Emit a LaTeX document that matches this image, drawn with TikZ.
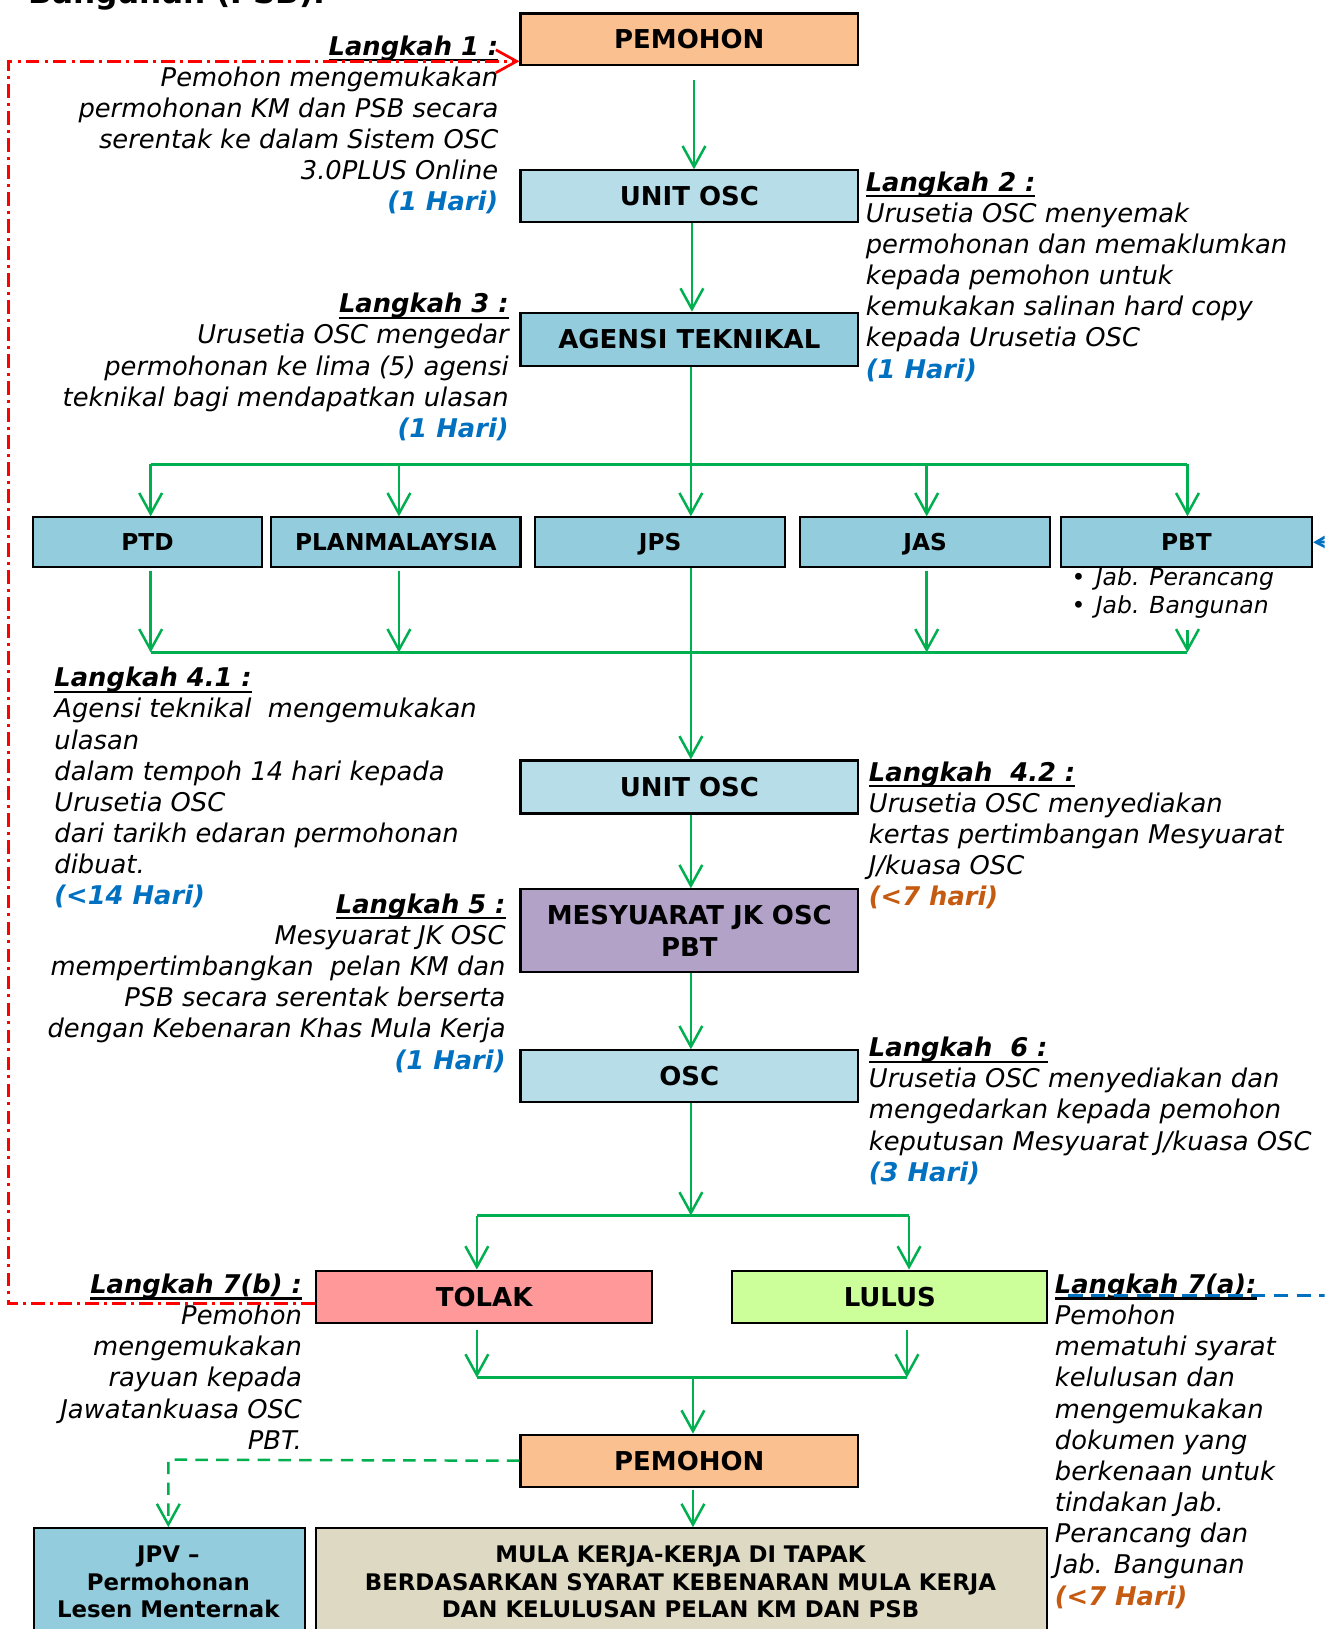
\documentclass[tikz,border=0pt]{standalone}
\usepackage{fontspec}
\setmainfont{DejaVu Sans}
\usetikzlibrary{arrows.meta}
\definecolor{peach}{RGB}{250,192,144}
\definecolor{lightblue}{RGB}{183,222,232}
\definecolor{midblue}{RGB}{147,205,221}
\definecolor{lilac}{RGB}{179,162,199}
\definecolor{pinkred}{RGB}{255,153,153}
\definecolor{lime}{RGB}{204,255,153}
\definecolor{tan}{RGB}{221,217,195}
\definecolor{ggreen}{RGB}{0,176,80}
\definecolor{hblue}{RGB}{0,112,192}
\definecolor{horange}{RGB}{197,90,17}
\definecolor{rred}{RGB}{255,0,0}
\newsavebox\lkbox
\newcommand\lk[1]{\sbox\lkbox{\bfseries\itshape #1}\usebox\lkbox\llap{\rule[-3pt]{\wd\lkbox}{1.1pt}}}
\newcommand\hb[1]{{\color{hblue}\bfseries\itshape #1}}
\newcommand\ho[1]{{\color{horange}\bfseries\itshape #1}}
\begin{document}
\begin{tikzpicture}[x=0.5pt,y=-0.5pt,
  box/.style={draw=black,line width=1pt,inner sep=0pt,anchor=north west,
    font=\fontsize{12.5}{15}\selectfont\bfseries},
  abox/.style={box,fill=midblue,minimum height=24pt,text height=8.2pt,text depth=0pt,
    font=\fontsize{11.2}{13}\selectfont\bfseries},
  bbox/.style={box,minimum height=62pt},
  btxt/.style={inner sep=0pt,align=center,anchor=base,
    font=\fontsize{11}{13.25}\selectfont\bfseries},
  txt/.style={inner sep=0pt,font=\fontsize{12.4}{15}\selectfont\itshape},
  gline/.style={draw=ggreen,line width=1.2pt},
  gar/.style={gline,-{Straight Barb[length=10pt,width=11pt]}},
  rline/.style={draw=rred,line width=1.3pt,dash pattern=on 6.5pt off 2.5pt on 1.5pt off 2.5pt,
    -{Straight Barb[length=10pt,width=11pt]}},
]
\useasboundingbox (0,0) rectangle (1275,1568);
\clip (0,0) rectangle (1275,1568);
\fill[white] (0,0) rectangle (1275,1568);

% title fragment
\node[inner sep=0pt,anchor=base west,font=\fontsize{15}{18}\selectfont\bfseries] (title) at (27,3) {Bangunan (PSB).};

% main boxes
\node[box,fill=peach,minimum width=162.5pt,minimum height=25pt] (p1) at (500,12) {PEMOHON};
\node[box,fill=lightblue,minimum width=162.5pt,minimum height=25pt] (u1) at (500,163) {UNIT OSC};
\node[box,fill=midblue,minimum width=162.5pt,minimum height=25.5pt] (a1) at (500,300) {AGENSI TEKNIKAL};

\node[abox,minimum width=110pt] (ptd) at (31,497) {PTD};
\node[abox,minimum width=120pt] (plan) at (260,497) {PLANMALAYSIA};
\node[abox,minimum width=120.5pt] (jps) at (514,497) {JPS};
\node[abox,minimum width=120.5pt] (jas) at (769,497) {JAS};
\node[abox,minimum width=121pt] (pbt) at (1020,497) {PBT};

\node[box,fill=lightblue,minimum width=162.5pt,minimum height=25.5pt] (u2) at (500,731) {UNIT OSC};
\node[box,fill=lilac,minimum width=162.5pt,minimum height=40pt,align=center] (m) at (500,855) {MESYUARAT JK OSC\\PBT};
\node[box,fill=lightblue,minimum width=162.5pt,minimum height=25pt] (osc) at (500,1010) {OSC};
\node[box,fill=pinkred,minimum width=162pt,minimum height=25pt] (tolak) at (303,1222) {TOLAK};
\node[box,fill=lime,minimum width=151.5pt,minimum height=25pt] (lulus) at (704,1222) {LULUS};
\node[box,fill=peach,minimum width=162.5pt,minimum height=25pt] (p2) at (500,1380) {PEMOHON};
\node[bbox,fill=midblue,minimum width=130.5pt] (jpv) at (32,1470) {};
\node[bbox,fill=tan,minimum width=352pt] (mula) at (303,1470) {};
\node[btxt] (jpvt) at (162,1557) {JPV --\\Permohonan\\Lesen Menternak};
\node[btxt] (mulat) at (655,1557) {MULA KERJA-KERJA DI TAPAK\\BERDASARKAN SYARAT KEBENARAN MULA KERJA\\DAN KELULUSAN PELAN KM DAN PSB};

% PBT bullets
\node[inner sep=0pt,anchor=base west,align=left,font=\fontsize{11.3}{13.5}\selectfont] (pbtl) at (1031,591)
  {•\hspace{5pt}\itshape Jab. Perancang\\•\hspace{5pt}\itshape Jab. Bangunan};

% texts (base anchor = baseline of last line)
\node[txt,align=right,anchor=base east] (s1) at (480,203) {\lk{Langkah 1 :}\\Pemohon mengemukakan\\permohonan KM dan PSB secara\\serentak ke dalam Sistem OSC\\3.0PLUS Online\\\hb{(1 Hari)}};
\node[txt,align=left,anchor=base west] (s2) at (833,364) {\lk{Langkah 2 :}\\Urusetia OSC menyemak\\permohonan dan memaklumkan\\kepada pemohon untuk\\kemukakan salinan hard copy\\kepada Urusetia OSC\\\hb{(1 Hari)}};
\node[txt,align=right,anchor=base east] (s3) at (490,421) {\lk{Langkah 3 :}\\Urusetia OSC mengedar\\permohonan ke lima (5) agensi\\teknikal bagi mendapatkan ulasan\\\hb{(1 Hari)}};
\node[txt,align=left,anchor=base west] (s41) at (52,871) {\lk{Langkah 4.1 :}\\Agensi teknikal\ \ mengemukakan\\ulasan\\dalam tempoh 14 hari kepada\\Urusetia OSC\\dari tarikh edaran permohonan\\dibuat.\\\hb{(<14 Hari)}};
\node[txt,align=left,anchor=base west] (s42) at (836,872) {\lk{Langkah\ \ 4.2 :}\\Urusetia OSC menyediakan\\kertas pertimbangan Mesyuarat\\J/kuasa OSC\\\ho{(<7 hari)}};
\node[txt,align=right,anchor=base east] (s5) at (487,1029) {\lk{Langkah 5 :}\\Mesyuarat JK OSC\\mempertimbangkan\ \ pelan KM dan\\PSB secara serentak berserta\\dengan Kebenaran Khas Mula Kerja\\\hb{(1 Hari)}};
\node[txt,align=left,anchor=base west] (s6) at (836,1137) {\lk{Langkah\ \ 6 :}\\Urusetia OSC menyediakan dan\\mengedarkan kepada pemohon\\keputusan Mesyuarat J/kuasa OSC\\\hb{(3 Hari)}};
\node[txt,align=right,anchor=base east] (s7b) at (291,1395) {\lk{Langkah 7(b) :}\\Pemohon\\mengemukakan\\rayuan kepada\\Jawatankuasa OSC\\PBT.};
\node[txt,align=left,anchor=base west] (s7a) at (1015,1545) {\lk{Langkah 7(a):}\\Pemohon\\mematuhi syarat\\kelulusan dan\\mengemukakan\\dokumen yang\\berkenaan untuk\\tindakan Jab.\\Perancang dan\\Jab. Bangunan\\\ho{(<7 Hari)}};

% junction coordinates
\coordinate (cx) at (665,447);
\coordinate (h1) at (145,447);
\coordinate (h2) at (384,447);
\coordinate (h4) at (892,447);
\coordinate (h5) at (1143,447);
\coordinate (b1) at (145,628);
\coordinate (b2) at (384,628);
\coordinate (b4) at (892,628);
\coordinate (b5) at (1143,628);
\coordinate (b5s) at (1143,606);
\coordinate (j7) at (665,1170);
\coordinate (jl) at (459,1170);
\coordinate (jr) at (875,1170);
\coordinate (kl) at (459,1326);
\coordinate (kr) at (873,1326);
\coordinate (kc) at (667,1326);
\coordinate (dj) at (162,1405);
\coordinate (r1) at (8,1255);
\coordinate (r2) at (8,59);
\coordinate (bz) at (1300,521);
\coordinate (bd1) at (1028,1247);
\coordinate (bd2) at (1300,1247);

% green connectors
\draw[gar] ([xshift=2.25pt,yshift=-6.5pt]p1.south) -- ([xshift=2.25pt]u1.north);
\draw[gar] ([xshift=1.25pt]u1.south) -- ([xshift=1.25pt]a1.north);
\draw[gline] (cx |- a1.south) -- (cx);
\draw[gline] (h1) -- (h5);
\draw[gar] (h1) -- (h1 |- ptd.north);
\draw[gar] (h2) -- (h2 |- plan.north);
\draw[gar] (cx) -- (cx |- jps.north);
\draw[gar] (h4) -- (h4 |- jas.north);
\draw[gar] (h5) -- (h5 |- pbt.north);
\draw[gar] ([yshift=-1.5pt]h1 |- ptd.south) -- (b1);
\draw[gar] ([yshift=-1.5pt]h2 |- plan.south) -- (b2);
\draw[gar] ([yshift=-1.5pt]h4 |- jas.south) -- (b4);
\draw[gar] (b5s) -- (b5);
\draw[gline] (b1) -- (b5);
\draw[gar] (cx |- jps.south) -- (cx |- u2.north);
\draw[gar] (cx |- u2.south) -- (cx |- m.north);
\draw[gar] (cx |- m.south) -- (cx |- osc.north);
\draw[gar] (cx |- osc.south) -- (j7);
\draw[gline] (jl) -- (jr);
\draw[gar] (jl) -- (jl |- tolak.north);
\draw[gar] (jr) -- (jr |- lulus.north);
\draw[gar] ([yshift=-3pt]kl |- tolak.south) -- (kl);
\draw[gar] ([yshift=-3pt]kr |- lulus.south) -- (kr);
\draw[gline] (kl) -- (kr);
\draw[gar] (kc) -- (kc |- p2.north);
\draw[gar] ([yshift=-1pt]kc |- p2.south) -- (kc |- mula.north);
\draw[gar,dash pattern=on 6pt off 4pt] (p2.west) -- (dj) -- (dj |- jpv.north);

% red dash-dot feedback
\draw[rline] (tolak.west |- r1) -- (r1) -- (r2) -- (p1.west |- r2);

% blue
\draw[draw=hblue,line width=1.3pt,-{Straight Barb[length=10pt,width=11pt]}] (bz) -- (pbt.east);
\draw[draw=hblue,line width=1.3pt,dash pattern=on 7pt off 4pt] (bd1) -- (bd2);
\end{tikzpicture}
\end{document}
